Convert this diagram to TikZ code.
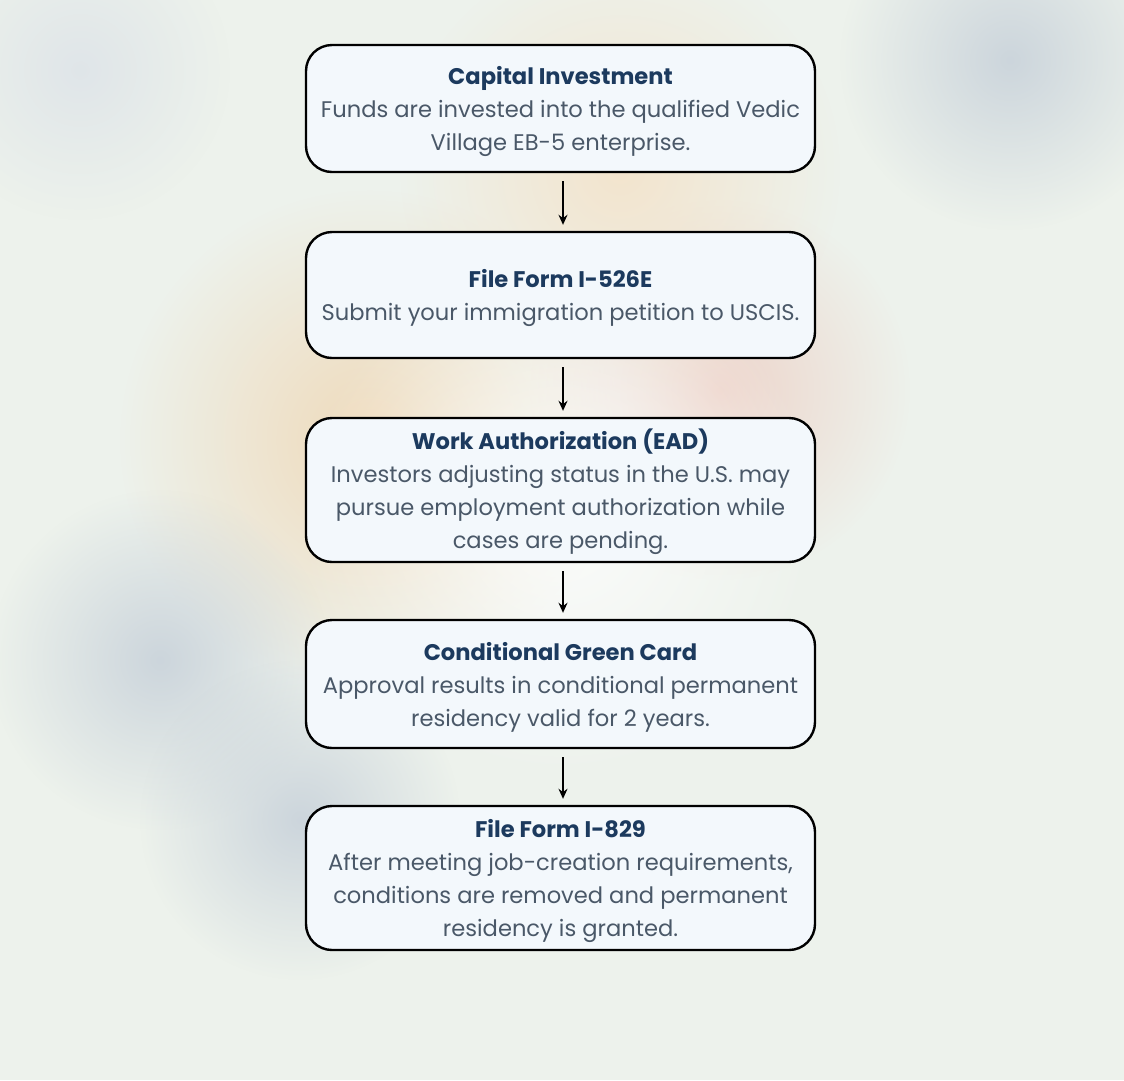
\documentclass[tikz,border=0pt]{standalone}
\usepackage{fontspec}
\setmainfont{Poppins}
\usetikzlibrary{arrows.meta,fadings}
\definecolor{bg}{HTML}{EDF2EC}
\definecolor{boxfill}{HTML}{F3F8FC}
\definecolor{titlec}{HTML}{1C3A5E}
\definecolor{bodyc}{HTML}{4A5868}
\definecolor{peach}{HTML}{F0D4AE}
\definecolor{rose}{HTML}{EECDC2}
\definecolor{slate}{HTML}{C4CED8}
\tikzfading[name=softblob, inner color=transparent!20, outer color=transparent!100]
\tikzset{
  stepbox/.style={draw=black, line width=2.4pt, fill=boxfill, rounded corners=26pt,
    minimum width=509pt, inner sep=0pt, align=center, text=bodyc,
    font=\fontsize{22.6}{33}\selectfont},
  flowarrow/.style={-{Stealth[length=10pt,width=9pt]}, line width=2.3pt, shorten <=8pt, shorten >=6pt},
}
\newcommand{\ttl}[1]{{\rule{0pt}{24pt}\bfseries\color{titlec}#1}}
\begin{document}
\begin{tikzpicture}[x=1pt,y=-1pt]
\fill[bg] (0,0) rectangle (1124,1080);
\useasboundingbox (0,0) rectangle (1124,1080);
% soft background blobs
\fill[peach, path fading=softblob] (370,440) circle (250);
\fill[rose, path fading=softblob] (720,390) circle (190);
\fill[peach!70!white, path fading=softblob] (620,170) circle (220);
\fill[slate, path fading=softblob] (1010,60) circle (170);
\fill[slate, path fading=softblob] (160,660) circle (170);
\fill[slate, path fading=softblob] (300,820) circle (160);
\fill[slate!60!white, path fading=softblob] (80,70) circle (150);
\fill[white, path fading=softblob] (560,520) circle (260);

\node[stepbox, minimum height=127pt] (b1) at (560.5,108.5)
  {\ttl{Capital Investment}\\Funds are invested into the qualified Vedic\\Village EB-5 enterprise.};
\node[stepbox, minimum height=126pt] (b2) at (560.5,295)
  {\ttl{File Form I-526E}\\Submit your immigration petition to USCIS.};
\node[stepbox, minimum height=144pt] (b3) at (560.5,490)
  {\ttl{Work Authorization (EAD)}\\Investors adjusting status in the U.S. may\\pursue employment authorization while\\cases are pending.};
\node[stepbox, minimum height=128pt] (b4) at (560.5,684)
  {\ttl{Conditional Green Card}\\Approval results in conditional permanent\\residency valid for 2 years.};
\node[stepbox, minimum height=144pt] (b5) at (560.5,878)
  {\ttl{File Form I-829}\\After meeting job-creation requirements,\\conditions are removed and permanent\\residency is granted.};

\draw[flowarrow] ([xshift=2.5pt]b1.south) -- ([xshift=2.5pt]b2.north);
\draw[flowarrow] ([xshift=2.5pt]b2.south) -- ([xshift=2.5pt]b3.north);
\draw[flowarrow] ([xshift=2.5pt]b3.south) -- ([xshift=2.5pt]b4.north);
\draw[flowarrow] ([xshift=2.5pt]b4.south) -- ([xshift=2.5pt]b5.north);
\end{tikzpicture}
\end{document}
